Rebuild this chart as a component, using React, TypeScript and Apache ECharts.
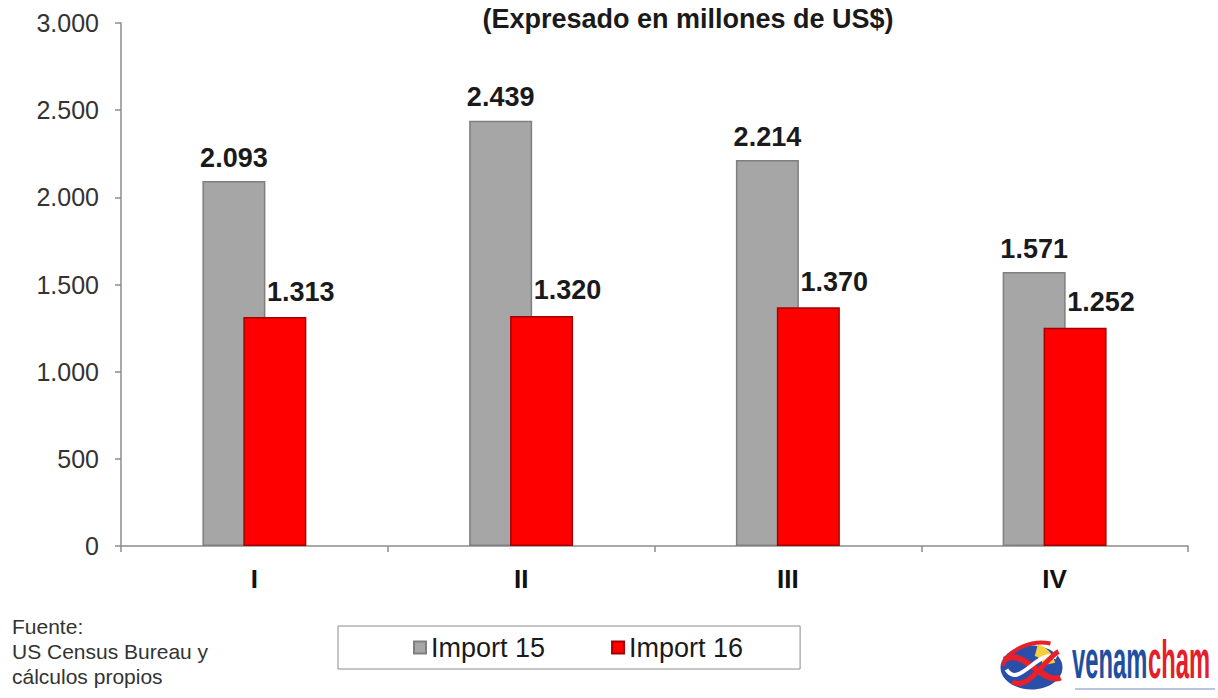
import React, { useEffect, useRef } from "react";
import * as echarts from "echarts";

const categories = ["I", "II", "III", "IV"];
const import15 = [2093, 2439, 2214, 1571];
const import16 = [1313, 1320, 1370, 1252];
const seriesNames = ["Import 15", "Import 16"];
const yMin = 0;
const yMax = 3000;
const yInterval = 500;
const titleText = "(Expresado en millones de US$)";
const sourceLines = ["Fuente:", "US Census Bureau y", "cálculos propios"];

const FONT = "'Liberation Sans', Arial, Helvetica, sans-serif";

function fmt(v: number): string {
  const s = Math.round(v).toString();
  return s.replace(/\B(?=(\d{3})+(?!\d))/g, ".");
}

export default function App() {
  const ref = useRef<HTMLDivElement>(null);

  useEffect(() => {
    document.body.style.margin = "0";
    if (!ref.current) return;
    const chart = echarts.init(ref.current, null, { renderer: "svg" });

    const option: any = {
      animation: false,
      backgroundColor: "#ffffff",
      textStyle: { fontFamily: FONT },
      title: {
        text: titleText,
        left: 683,
        top: 0,
        textAlign: "center",
        textStyle: {
          fontFamily: FONT,
          fontSize: 27,
          fontWeight: "bold",
          color: "#1a1a1a",
        },
      },
      grid: { left: 121, right: 30, top: 23, bottom: 152, containLabel: false },
      legend: {
        data: seriesNames,
        left: 338,
        top: 626,
        orient: "horizontal",
        itemWidth: 12,
        itemHeight: 12,
        itemGap: 66,
        padding: [8, 57, 8, 75],
        borderColor: "#8c8c8c",
        borderWidth: 1,
        icon: "rect",
        textStyle: { fontFamily: FONT, fontSize: 27, color: "#1a1a1a" },
      },
      xAxis: {
        type: "category",
        data: categories,
        axisLine: { lineStyle: { color: "#8c8c8c", width: 1.5 } },
        axisTick: { show: true, length: 6, lineStyle: { color: "#8c8c8c", width: 1.5 } },
        axisLabel: {
          margin: 20,
          fontFamily: FONT,
          fontSize: 26,
          fontWeight: "bold",
          color: "#111111",
        },
      },
      yAxis: {
        type: "value",
        min: yMin,
        max: yMax,
        interval: yInterval,
        splitLine: { show: false },
        axisLine: { show: true, lineStyle: { color: "#8c8c8c", width: 1.5 } },
        axisTick: { show: true, length: 6, lineStyle: { color: "#8c8c8c", width: 1.5 } },
        axisLabel: {
          margin: 22,
          fontFamily: FONT,
          fontSize: 25,
          color: "#333333",
          formatter: (v: number) => fmt(v),
        },
      },
      series: [
        {
          name: seriesNames[0],
          type: "bar",
          data: import15,
          barWidth: 63,
          barGap: "-35%",
          itemStyle: { color: "#a6a6a6", borderColor: "#7f7f7f", borderWidth: 1.5 },
          label: {
            show: true,
            position: "top",
            distance: 10,
            fontFamily: FONT,
            fontSize: 27,
            fontWeight: "bold",
            color: "#1a1a1a",
            formatter: (p: any) => fmt(p.value),
          },
        },
        {
          name: seriesNames[1],
          type: "bar",
          data: import16,
          barWidth: 63,
          barGap: "-35%",
          itemStyle: { color: "#ff0000", borderColor: "#a50000", borderWidth: 1.5 },
          label: {
            show: true,
            position: "top",
            distance: 12,
            offset: [26, 0],
            fontFamily: FONT,
            fontSize: 27,
            fontWeight: "bold",
            color: "#1a1a1a",
            formatter: (p: any) => fmt(p.value),
          },
        },
      ],
      graphic: [
        {
          type: "text",
          left: 12,
          top: 614,
          style: {
            text: sourceLines.join("\n"),
            font: `21px ${FONT}`,
            lineHeight: 25,
            fill: "#333333",
          },
        },
        {
          type: "group",
          left: 1000,
          top: 640,
          children: [
            { type: "ellipse", shape: { cx: 33, cy: 30, rx: 31, ry: 22 }, style: { fill: "#2a4fa8" } },
            { type: "sector", shape: { cx: 33, cy: 30, r0: 12, r: 24, startAngle: -1.3, endAngle: -0.2 }, style: { fill: "#f4d03f" } },
            { type: "bezierCurve", shape: { x1: 6, y1: 22, x2: 62, y2: 40, cpx1: 25, cpy1: 10, cpx2: 45, cpy2: 48 }, style: { stroke: "#e8202a", lineWidth: 6, fill: "none" } },
            { type: "bezierCurve", shape: { x1: 8, y1: 32, x2: 58, y2: 20, cpx1: 20, cpy1: 52, cpx2: 40, cpy2: 10 }, style: { stroke: "#ffffff", lineWidth: 4, fill: "none" } },
            { type: "bezierCurve", shape: { x1: 14, y1: 44, x2: 60, y2: 14, cpx1: 28, cpy1: 55, cpx2: 48, cpy2: 20 }, style: { stroke: "#e8202a", lineWidth: 5, fill: "none" } },
            { type: "bezierCurve", shape: { x1: 4, y1: 28, x2: 52, y2: 6, cpx1: 12, cpy1: 10, cpx2: 35, cpy2: 2 }, style: { stroke: "#e8202a", lineWidth: 4, fill: "none" } },
          ],
        },
        {
          type: "text",
          left: 1072,
          top: 632,
          scaleX: 0.44,
          style: {
            text: "venam",
            font: `bold 54px ${FONT}`,
            fill: "#1f4fa0",
          },
        },
        {
          type: "text",
          left: 1148,
          top: 632,
          scaleX: 0.44,
          style: {
            text: "cham",
            font: `bold 54px ${FONT}`,
            fill: "#e3202a",
          },
        },
        {
          type: "rect",
          left: 1075,
          top: 688,
          shape: { width: 140, height: 2 },
          style: { fill: "#b8c4e0" },
        },
      ],
    };

    chart.setOption(option);
    return () => chart.dispose();
  }, []);

  return <div ref={ref} style={{ width: 1218, height: 698 }} />;
}
